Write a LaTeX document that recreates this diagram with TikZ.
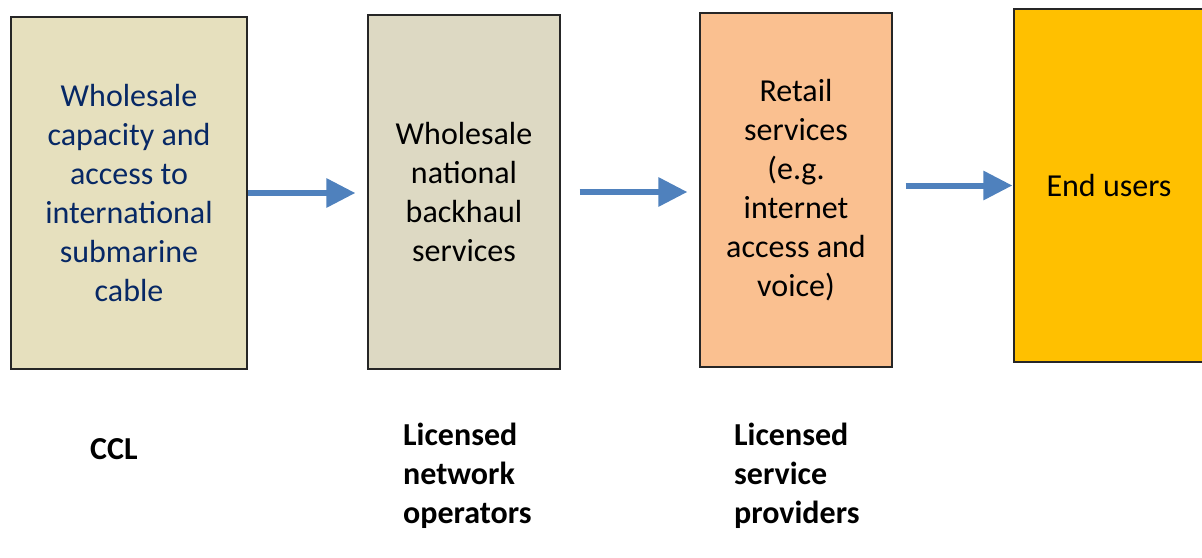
\documentclass[tikz,border=0pt]{standalone}
\usepackage{fontspec}
\setmainfont{Carlito}
\usetikzlibrary{arrows.meta, positioning}
\definecolor{cablefill}{HTML}{E6E0BE}
\definecolor{backfill}{HTML}{DDD9C3}
\definecolor{retailfill}{HTML}{FAC090}
\definecolor{userfill}{HTML}{FFC000}
\definecolor{cabletext}{HTML}{072865}
\definecolor{flowblue}{HTML}{4F81BD}

\begin{document}
\begin{tikzpicture}[x=1pt, y=-1pt,
  stage/.style={draw=black!85, line width=1.2pt, inner sep=0pt, align=center,
    font=\fontsize{32}{39}\selectfont},
  flow/.style={draw=flowblue, line width=6pt, -{Triangle[length=29pt,width=28pt]}},
  owner/.style={anchor=north west, inner sep=0pt, align=left,
    font=\fontsize{32}{39}\selectfont\bfseries}]
\useasboundingbox (0,0) rectangle (1202,557);

% market stages
\node[stage, fill=cablefill, text=cabletext, minimum width=236pt, minimum height=352pt] (cable) at (129,193)
  {Wholesale\\capacity and\\access to\\international\\submarine\\cable};
\node[stage, fill=backfill, minimum width=192pt, minimum height=354pt] (backhaul) at (464,192)
  {Wholesale\\national\\backhaul\\services};
\node[stage, fill=retailfill, minimum width=192pt, minimum height=354pt] (retail) at (796,190)
  {Retail\\services\\(e.g.\\internet\\access and\\voice)};
\node[stage, fill=userfill, minimum width=190pt, minimum height=353pt] (users) at (1109,185.5)
  {End users};

% arrows between stages
\draw[flow, shorten >=12pt] (cable.east) -- (cable.east -| backhaul.west);
\draw[flow, shorten <=19pt, shorten >=12pt] (backhaul.east) -- (backhaul.east -| retail.west);
\draw[flow, shorten <=13pt, shorten >=1pt] (users.west -| retail.east) -- (users.west);

% who supplies each stage
\node[owner] (ccl) at (90,438) {CCL};
\node[owner] (netops) at (403,423) {Licensed\\network\\operators};
\node[owner] (provs) at (734,423) {Licensed\\service\\providers};
\end{tikzpicture}
\end{document}
